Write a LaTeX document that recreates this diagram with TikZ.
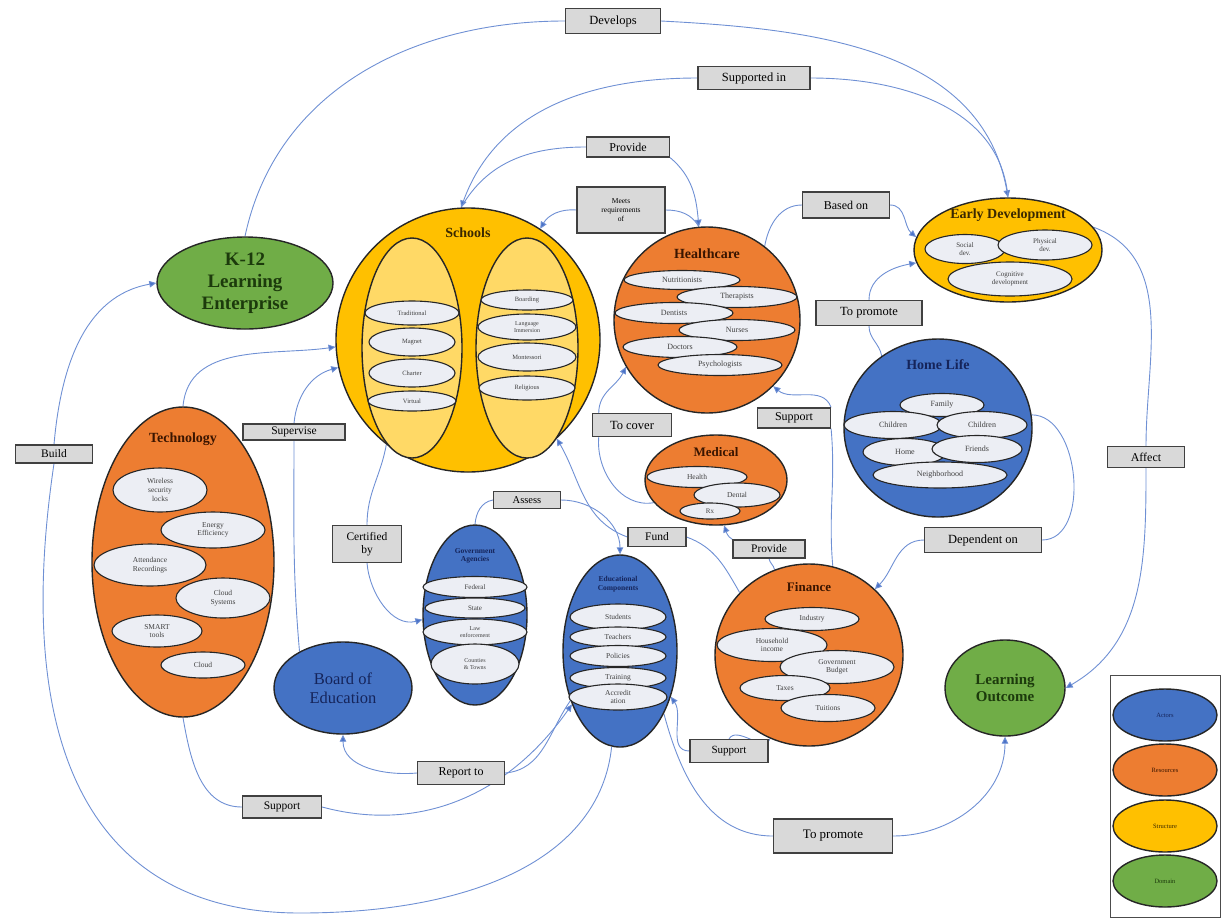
\documentclass[tikz,border=0pt]{standalone}
\usepackage{fontspec}
\setmainfont{Liberation Serif}
\usetikzlibrary{shapes.geometric,arrows.meta}
\definecolor{actc}{HTML}{4472C4}
\definecolor{resc}{HTML}{ED7D31}
\definecolor{structc}{HTML}{FFC000}
\definecolor{domc}{HTML}{70AD47}
\definecolor{schoolin}{HTML}{FFD966}
\definecolor{subfill}{HTML}{ECEEF4}
\definecolor{lblfill}{HTML}{D9D9D9}
\definecolor{linkc}{HTML}{6F90D4}
\definecolor{tipc}{HTML}{4A72C8}
\definecolor{tbrown}{HTML}{3A1500}
\definecolor{tnavy}{HTML}{15245A}
\definecolor{tgreen}{HTML}{1C3A0C}
\definecolor{tgold}{HTML}{3A2800}
\newcommand\sizept[1]{\fontsize{#1}{\dimexpr #1pt*115/100\relax}\selectfont}
\pgfdeclarelayer{bg}
\pgfsetlayers{bg,main}
\tikzset{
  sz/.style 2 args={minimum width=#1, minimum height=#2},
  big/.style={ellipse, draw=black!85, line width=1.4pt, inner sep=0pt},
  sub/.style={ellipse, draw=black!85, line width=1.1pt, fill=subfill, inner sep=0pt,
              align=center, text=black!75, font=\sizept{#1}},
  sub/.default=7,
  title/.style={font=\bfseries\sizept{#1}, align=center, inner sep=0pt},
  lbl/.style={rectangle, draw=black!75, line width=1.2pt, fill=lblfill, inner sep=0pt,
              align=center, font=\sizept{#1}},
  lbl/.default=12,
  link/.style={draw=linkc, line width=0.9pt},
  arr/.style={link, -{Triangle[length=7pt,width=6.5pt,fill=tipc]}},
}
\begin{document}
\begin{tikzpicture}[x=1pt,y=-1pt]
\useasboundingbox (0,0) rectangle (1222,919);

% ---------- Schools ----------
\node[big, fill=structc, sz={264}{264}] (schools) at (468,340) {};
\node[title=14, text=tgold] (schoolsT) at (468,233) {Schools};
\node[big, fill=schoolin, sz={100}{220}] (schL) at (412,348) {};
\node[big, fill=schoolin, sz={102}{220}] (schR) at (527,348) {};
\node[sub=6.5, sz={94}{24}] (trad) at (412,313) {Traditional};
\node[sub=6.5, sz={86}{28}] (magnet) at (412,342) {Magnet};
\node[sub=6.5, sz={86}{28}] (charter) at (412,373) {Charter};
\node[sub=6.5, sz={88}{20}] (virtual) at (412,401) {Virtual};
\node[sub=6.5, sz={92}{20}] (boarding) at (527,300) {Boarding};
\node[sub=6, sz={98}{26}] (immersion) at (527,327) {Language\\Immersion};
\node[sub=6.5, sz={98}{28}] (montessori) at (527,357) {Montessori};
\node[sub=6.5, sz={96}{24}] (religious) at (527,388) {Religious};

% ---------- Healthcare ----------
\node[big, fill=resc, sz={186}{186}] (health) at (707,320) {};
\node[title=14, text=tbrown] (healthT) at (707,254) {Healthcare};
\node[sub=8, sz={116}{19}] (nutri) at (682,280) {Nutritionists};
\node[sub=8, sz={120}{21}] (thera) at (737,297) {Therapists};
\node[sub=8, sz={118}{21}] (dent) at (674,313) {Dentists};
\node[sub=8, sz={116}{21}] (nurse) at (737,330) {Nurses};
\node[sub=8, sz={114}{21}] (doct) at (680,347) {Doctors};
\node[sub=8, sz={124}{21}] (psych) at (720,365) {Psychologists};

% ---------- Early Development ----------
\node[big, fill=structc, sz={188}{104}] (dev) at (1008,250) {};
\node[title=14, text=tgold] (devT) at (1008,215) {Early Development};
\node[sub=7, sz={80}{29}] (social) at (965,249) {Social\\dev.};
\node[sub=7, sz={94}{30}] (phys) at (1045,245) {Physical\\dev.};
\node[sub=7, sz={124}{34}] (cogn) at (1010,279) {Cognitive\\development};

% ---------- Home Life ----------
\node[big, fill=actc, sz={188}{178}] (home) at (938,428) {};
\node[title=14, text=tnavy] (homeT) at (938,365) {Home Life};
\node[sub=8, sz={84}{23}] (family) at (942,405) {Family};
\node[sub=8, sz={98}{27}] (childL) at (893,425) {Children};
\node[sub=8, sz={90}{27}] (childR) at (982,425) {Children};
\node[sub=8, sz={84}{27}] (homeI) at (905,452) {Home};
\node[sub=8, sz={90}{27}] (friends) at (977,449) {Friends};
\node[sub=8, sz={134}{26}] (neigh) at (940,475) {Neighborhood};

% ---------- K-12 ----------
\node[big, fill=domc, sz={176}{92}, title=19, text=tgreen] (k12) at (245,283)
  {K-12\\Learning\\Enterprise};

% ---------- Technology ----------
\node[big, fill=resc, sz={182}{310}] (tech) at (183,562) {};
\node[title=14, text=tbrown] (techT) at (183,439) {Technology};
\node[sub=7.5, sz={94}{44}] (wireless) at (160,490) {Wireless\\security\\locks};
\node[sub=7.5, sz={104}{36}] (energy) at (213,530) {Energy\\Efficiency};
\node[sub=7.5, sz={112}{42}] (attend) at (150,565) {Attendance\\Recordings};
\node[sub=7.5, sz={94}{40}] (csys) at (223,598) {Cloud\\Systems};
\node[sub=7.5, sz={90}{32}] (smart) at (157,631) {SMART\\tools};
\node[sub=7.5, sz={84}{26}] (cloud) at (203,665) {Cloud};

% ---------- Medical ----------
\node[big, fill=resc, sz={142}{90}] (med) at (716,480) {};
\node[title=13, text=tbrown] (medT) at (716,452) {Medical};
\node[sub=7.5, sz={100}{21}] (healthI) at (697,477) {Health};
\node[sub=7.5, sz={86}{24}] (dental) at (737,495) {Dental};
\node[sub=7, sz={60}{16}] (rx) at (710,511) {Rx};

% ---------- Government Agencies ----------
\node[big, fill=actc, sz={104}{180}] (gov) at (475,615) {};
\node[title=7.5, text=tnavy] (govT) at (475,556) {Government\\Agencies};
\node[sub=7, sz={104}{21}] (federal) at (475,587) {Federal};
\node[sub=7, sz={100}{20}] (state) at (475,608) {State};
\node[sub=6, sz={104}{26}] (law) at (475,632) {Law\\enforcement};
\node[sub=6, sz={88}{40}] (county) at (475,664) {Counties\\\& Towns};

% ---------- Educational Components ----------
\node[big, fill=actc, sz={114}{192}] (edu) at (620,651) {};
\node[title=7.5, text=tnavy] (eduT) at (618,584) {Educational\\Components};
\node[sub=7.5, sz={96}{26}] (students) at (618,617) {Students};
\node[sub=7.5, sz={96}{20}] (teachers) at (618,637) {Teachers};
\node[sub=7.5, sz={96}{21}] (policies) at (618,656) {Policies};
\node[sub=7.5, sz={96}{21}] (training) at (618,678) {Training};
\node[sub=7.5, sz={98}{26}] (accred) at (618,697) {Accredit\\ation};

% ---------- Finance ----------
\node[big, fill=resc, sz={188}{182}] (fin) at (809,655) {};
\node[title=13, text=tbrown] (finT) at (809,587) {Finance};
\node[sub=7.5, sz={94}{23}] (industry) at (812,619) {Industry};
\node[sub=7.5, sz={110}{33}] (household) at (772,645) {Household\\income};
\node[sub=7.5, sz={114}{33}] (govbudget) at (837,667) {Government\\Budget};
\node[sub=7.5, sz={90}{25}] (taxes) at (785,688) {Taxes};
\node[sub=7.5, sz={94}{27}] (tuitions) at (828,708) {Tuitions};

% ---------- Board of Education / Learning Outcome ----------
\node[big, fill=actc, sz={138}{92}, align=center, font=\sizept{16.5}, text=tnavy] (boe) at (343,688)
  {Board of\\Education};
\node[big, fill=domc, sz={120}{96}, title=15, text=tgreen] (lo) at (1005,688)
  {Learning\\Outcome};

% ---------- Legend ----------
\node[rectangle, draw=black!70, line width=1pt, sz={110}{242}, inner sep=0pt] (legend) at (1165,796) {};
\node[big, fill=actc, sz={104}{52}, font=\sizept{6.5}, text=tnavy] (legA) at (1165,715) {Actors};
\node[big, fill=resc, sz={104}{52}, font=\sizept{6.5}, text=tbrown] (legR) at (1165,770) {Resources};
\node[big, fill=structc, sz={104}{52}, font=\sizept{6.5}, text=tgold] (legS) at (1165,826) {Structure};
\node[big, fill=domc, sz={104}{52}, font=\sizept{6.5}, text=tgreen] (legD) at (1165,881) {Domain};

% ---------- Relation labels ----------
\node[lbl=12.5, sz={95}{25}] (develops) at (613,21) {Develops};
\node[lbl=12.5, sz={112}{23}] (supported) at (754,78) {Supported in};
\node[lbl=12, sz={83}{20}] (provideA) at (628,147) {Provide};
\node[lbl=7.5, sz={88}{46}] (meets) at (621,210) {Meets\\requirements\\of};
\node[lbl=12, sz={87}{26}] (based) at (846,205) {Based on};
\node[lbl=12.5, sz={106}{25}] (promoteA) at (869,313) {To promote};
\node[lbl=12, sz={73}{20}] (supportM) at (794,418) {Support};
\node[lbl=12.5, sz={79}{23}] (cover) at (632,425) {To cover};
\node[lbl=12, sz={77}{21}] (affect) at (1146,457) {Affect};
\node[lbl=11.5, sz={102}{16}] (supervise) at (294,432) {Supervise};
\node[lbl=11.5, sz={77}{18}] (build) at (54,454) {Build};
\node[lbl=10.5, sz={67}{17}] (assess) at (527,500) {Assess};
\node[lbl=11.5, sz={69}{37}] (cert) at (367,544) {Certified\\by};
\node[lbl=11.5, sz={58}{19}] (fund) at (657,537) {Fund};
\node[lbl=11.5, sz={72}{18}] (provideB) at (769,549) {Provide};
\node[lbl=12.5, sz={117}{25}] (depend) at (983,540) {Dependent on};
\node[lbl=11, sz={78}{23}] (supportR) at (729,751) {Support};
\node[lbl=12, sz={87}{23}] (report) at (461,773) {Report to};
\node[lbl=11.5, sz={79}{22}] (supportL) at (282,807) {Support};
\node[lbl=13, sz={119}{34}] (promoteB) at (833,836) {To promote};

% ---------- Connectors ----------
\begin{pgfonlayer}{bg}
\draw[link] (k12.north) to[out=78,in=180] (develops.west);
\draw[arr] (develops.east) to[out=-3,in=100] (dev.north);
\draw[link] (supported.east) to[out=0,in=95] (dev.north);
\draw[arr] (supported.west) to[out=180,in=70] (schools.93);
\draw[link] (provideA.west) to[out=180,in=60] (schools.93);
\draw[arr] (provideA.south east) to[out=-40,in=95] (health.95);
\draw[arr] (meets.west) to[out=175,in=60] (schools.57);
\draw[link] (meets.east) to[out=0,in=120] (health.95);
\draw[link] (health.52) to[out=80,in=180] (based.west);
\draw[arr] (based.east) to[out=0,in=140] (dev.172);
\draw[link] (home.128) to[out=100,in=-90] (promoteA.south);
\draw[arr] (promoteA.north) to[out=90,in=190] (dev.188);
\draw[link] (fin.75) to[out=95,in=-85] (supportM.south east);
\draw[arr] (supportM.north east) to[out=110,in=-40] (health.-45);
\draw[link] (med.200) to[out=190,in=-95] (cover.200);
\draw[arr] (cover.160) to[out=90,in=-115] (health.210);
\draw[link] (dev.15) to[out=-20,in=90] (affect.north);
\draw[arr] (affect.south) to[out=-90,in=30] (lo.east);
\draw[link] (home.8) to[out=0,in=0] (depend.east);
\draw[arr] (depend.west) to[out=180,in=45] (fin.45);
\draw[link] (fin.112) to[out=100,in=-80] (provideB.south);
\draw[arr] (provideB.north west) to[out=150,in=-70] (med.-80);
\draw[link] (fin.138) to[out=120,in=-20] (fund.east);
\draw[arr] (fund.west) to[out=160,in=-60] (schools.-48);
\draw[link] (gov.north) to[out=85,in=190] (assess.west);
\draw[arr] (assess.east) to[out=0,in=90] (edu.north);
\draw[link] (schools.-128) to[out=-100,in=90] (cert.north);
\draw[arr] (cert.south) to[out=-85,in=195] (gov.185);
\draw[link] (boe.140) to[out=95,in=-90] (supervise.south);
\draw[arr] (supervise.north) to[out=85,in=195] (schools.192);
\draw[arr] (tech.north) to[out=85,in=188] (schools.183);
\draw[link] (edu.-135) to[out=-125,in=5] (report.east);
\draw[arr] (report.west) to[out=185,in=-90] (boe.south);
\draw[link] (tech.south) to[out=-80,in=180] (supportL.west);
\draw[arr] (supportL.east) to[out=-15,in=-125] (edu.-132);
\draw[link] (fin.-115) to[out=-110,in=60] (supportR.north);
\draw[arr] (supportR.west) to[out=180,in=-55] (edu.-42);
\draw[link] (edu.-55) to[out=-75,in=180] (promoteB.west);
\draw[arr] (promoteB.east) to[out=0,in=-90] (lo.south);
\draw[link] (edu.-95) .. controls (600,860) and (470,913) .. (300,913)
      .. controls (100,913) and (10,760) .. (build.south);
\draw[arr] (build.north) to[out=85,in=190] (k12.west);
\end{pgfonlayer}
\end{tikzpicture}
\end{document}
